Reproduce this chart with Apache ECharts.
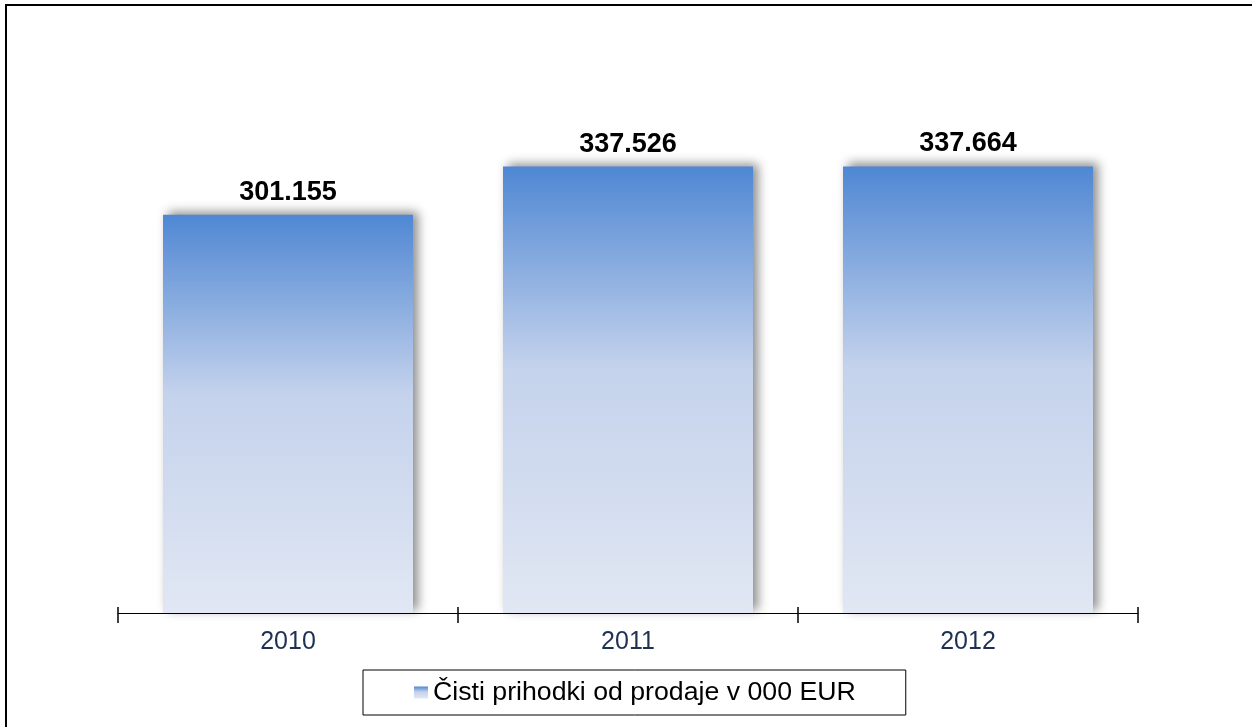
<!DOCTYPE html>
<html>
<head>
<meta charset="utf-8">
<script src="https://cdn.jsdelivr.net/npm/echarts@6/dist/echarts.min.js"></script>
<style>
html,body{margin:0;padding:0;background:#fff;}
#chart{width:1252px;height:727px;}
</style>
</head>
<body>
<div id="chart"></div>
<script>
var categories = ['2010', '2011', '2012'];
var values = [301.155, 337.526, 337.664];
var seriesName = 'Čisti prihodki od prodaje v 000 EUR';

var chart = echarts.init(document.getElementById('chart'));
var grad = new echarts.graphic.LinearGradient(0, 0, 0, 1, [
  {offset: 0, color: '#4f87d3'},
  {offset: 0.45, color: '#c4d2ec'},
  {offset: 1, color: '#e1e7f3'}
]);
chart.setOption({
  backgroundColor: '#fff',
  animation: false,
  graphic: [{
    type: 'rect',
    shape: {x: 6, y: 5, width: 1260, height: 740},
    style: {fill: 'none', stroke: '#000', lineWidth: 2}
  }],
  grid: {left: 118, right: 1252 - 1138, top: 84, bottom: 727 - 613},
  legend: {
    data: [{name: seriesName, icon: 'rect'}],
    left: 363,
    top: 670,
    padding: [9, 50, 9, 51],
    borderColor: '#000',
    borderWidth: 1,
    itemWidth: 14,
    itemHeight: 12,
    itemGap: 6,
    textStyle: {fontFamily: 'Liberation Sans, Arial', fontSize: 26.7, color: '#000'}
  },
  xAxis: [{
    type: 'category',
    data: categories,
    position: 'bottom',
    axisLine: {lineStyle: {color: '#000', width: 1}},
    axisTick: {show: true, inside: false, length: 10, lineStyle: {color: '#000', width: 1.5}},
    axisLabel: {fontFamily: 'Liberation Sans, Arial', fontSize: 25, color: '#1f3152', margin: 17}
  }, {
    type: 'category',
    data: categories,
    position: 'bottom',
    axisLine: {show: false},
    axisTick: {show: true, inside: true, length: 6, lineStyle: {color: '#000', width: 1.5}},
    axisLabel: {show: false}
  }],
  yAxis: {
    type: 'value', min: 0, max: 400,
    show: false,
    splitLine: {show: false}
  },
  series: [{
    name: seriesName,
    type: 'bar',
    data: values,
    barWidth: 250,
    itemStyle: {
      color: grad,
      shadowColor: 'rgba(0,0,0,0.45)',
      shadowBlur: 10,
      shadowOffsetX: 5,
      shadowOffsetY: -3
    },
    label: {
      show: true,
      position: 'top',
      distance: 9,
      fontFamily: 'Liberation Sans, Arial',
      fontSize: 27,
      fontWeight: 'bold',
      color: '#000',
      formatter: function (p) { return p.value.toFixed(3); }
    }
  }]
});
</script>
</body>
</html>
